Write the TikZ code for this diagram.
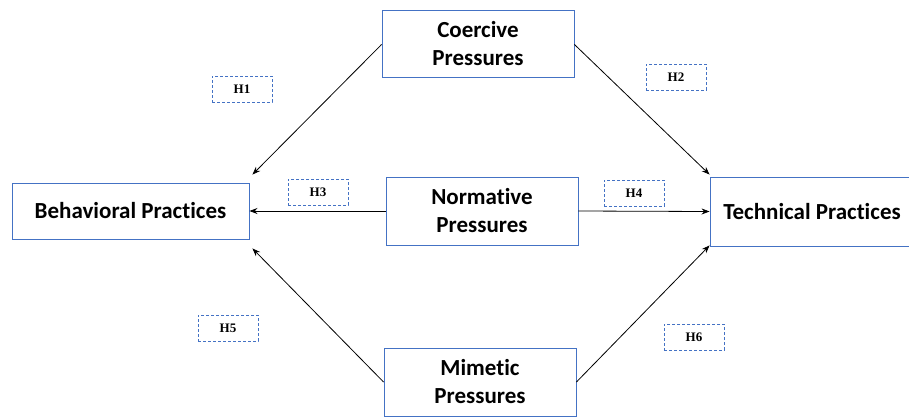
\documentclass[tikz,border=0pt]{standalone}
\usepackage{fontspec}
\setmainfont{Liberation Serif}
\newfontfamily\boxfont[Ligatures=NoCommon]{Carlito}
\usepackage{xcolor}
\usetikzlibrary{arrows.meta,positioning,calc}

\definecolor{boxblue}{HTML}{4472C4}

\begin{document}
\begin{tikzpicture}[
  x=1pt,y=-1pt,
  font=\boxfont\bfseries\fontsize{23}{28}\selectfont,
  box/.style={draw=boxblue,line width=0.9pt,fill=white,align=center,inner sep=0pt,minimum width=192pt,minimum height=68pt},
  hyp/.style={draw=boxblue,line width=0.8pt,dash pattern=on 3pt off 2pt,inner sep=0pt,minimum width=60pt,minimum height=26pt,
    font=\rmfamily\bfseries\fontsize{13}{15}\selectfont},
  arr/.style={-{Stealth[length=8pt,width=6pt]},line width=0.8pt}
]
\useasboundingbox (0,0) rectangle (909,418);

% outcome boxes
\node[box,minimum width=237pt,minimum height=56pt] (behav) at (130.5,211) {Behavioral Practices};
\node[box,minimum width=204pt,minimum height=69pt] (techn) at (812,211.5) {Technical Practices};

% pressures
\node[box,minimum height=67pt] (coerc) at (478,43.5) {Coercive\\Pressures};
\node[box] (norma) at (482,211) {Normative\\Pressures};
\node[box] (mimet) at (480,382) {Mimetic\\Pressures};

% hypothesis tags
\node[hyp] (h1) at (242,89) {H1};
\node[hyp] (h2) at (676,77) {H2};
\node[hyp] (h3) at (318,192) {H3};
\node[hyp] (h4) at (634,193) {H4};
\node[hyp] (h5) at (228,328) {H5};
\node[hyp] (h6) at (694,337) {H6};

% arrows
\draw[arr] ([yshift=-1pt]coerc.west) -- ([xshift=3pt,yshift=8pt]behav.north east);
\draw[arr] ([yshift=-1pt]coerc.east) -- ([yshift=2pt]techn.north west);
\draw[arr] (norma.west) -- (behav.east);
\draw[arr] (norma.east) -- (techn.west);
\draw[arr] (mimet.west) -- ([xshift=3pt,yshift=-9pt]behav.south east);
\draw[arr] (mimet.east) -- ([yshift=1pt]techn.south west);
\end{tikzpicture}
\end{document}
